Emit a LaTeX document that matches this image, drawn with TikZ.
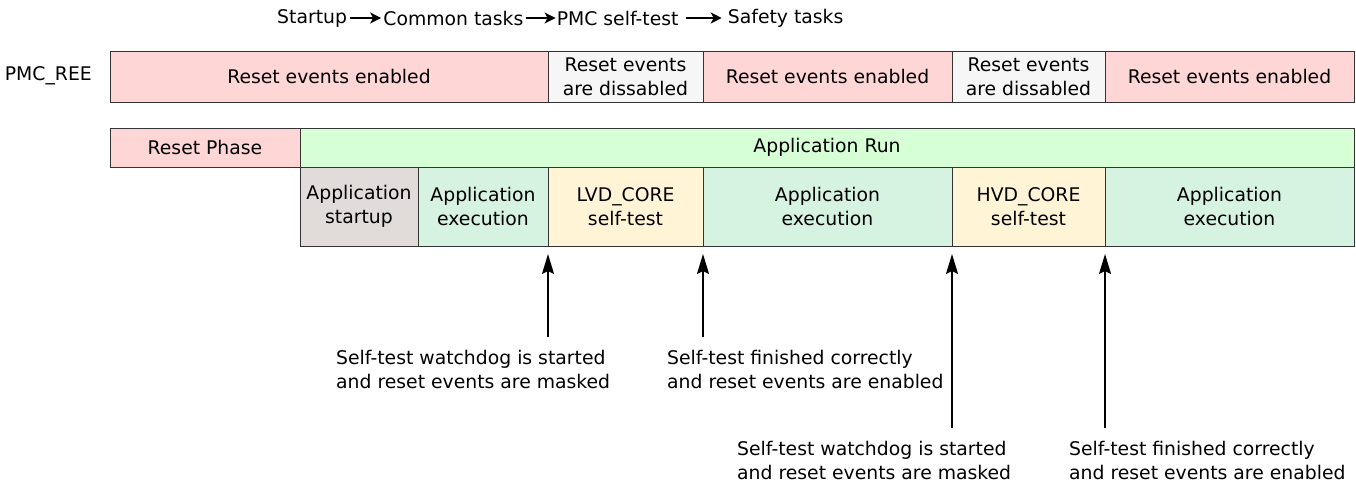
\documentclass[tikz,border=0pt]{standalone}
\usepackage{fontspec}
\setmainfont{DejaVu Sans}
\usetikzlibrary{arrows.meta}
\usetikzlibrary{positioning}

\definecolor{reepink}{HTML}{FFD6D6}
\definecolor{reeoff}{HTML}{F6F6F6}
\definecolor{rungreen}{HTML}{D6FFD6}
\definecolor{startgrey}{HTML}{E1DCDA}
\definecolor{execmint}{HTML}{D6F2E1}
\definecolor{testyellow}{HTML}{FFF5D6}

\begin{document}
\begin{tikzpicture}[x=1pt,y=-1pt]
\tikzset{font=\fontsize{18.8}{24}\selectfont}
\tikzset{seg/.style={draw=black!80, line width=0.8pt, inner sep=0pt, outer sep=0pt, align=center, anchor=north west}}
\tikzset{reeseg/.style={seg, minimum height=51pt}}
\tikzset{phaseseg/.style={seg, minimum height=39pt}}
\tikzset{taskseg/.style={seg, minimum height=79pt}}
\tikzset{evtext/.style={inner sep=0pt, align=left, anchor=north west}}
\tikzset{evarrow/.style={line width=2pt, -{Stealth[length=20pt,width=12pt,inset=3pt]}, shorten <=13pt, shorten >=8pt}}
\tikzset{flowarrow/.style={line width=1.5pt, -{Stealth[length=11pt,width=11pt,inset=3pt]}}}
\useasboundingbox (0,0) rectangle (1356,484);

% task order
\node[inner sep=0pt, anchor=west] (lstart) at (277,18) {Startup};
\node[inner sep=0pt, right=36pt of lstart] (lcommon) {Common tasks};
\node[inner sep=0pt, right=33pt of lcommon] (lpmc) {PMC self-test};
\node[inner sep=0pt, right=49pt of lpmc] (lsafety) {Safety tasks};
\draw[flowarrow] (lstart.east) ++(3,0) -- ([xshift=-2pt]lcommon.west);
\draw[flowarrow] (lcommon.east) ++(2,0) -- ([xshift=-1pt]lpmc.west);
\draw[flowarrow] (lpmc.east) ++(7,0) -- ([xshift=-6pt]lsafety.west);

% PMC_REE
\node[inner sep=0pt, anchor=east] (reelbl) at (92,76) {PMC\_REE};
\node[reeseg, fill=reepink, minimum width=438pt] (ree1) at (110,51) {Reset events enabled};
\node[reeseg, fill=reeoff, minimum width=155pt, right=0pt of ree1] (ree2) {Reset events\\are dissabled};
\node[reeseg, fill=reepink, minimum width=249pt, right=0pt of ree2] (ree3) {Reset events enabled};
\node[reeseg, fill=reeoff, minimum width=153pt, right=0pt of ree3] (ree4) {Reset events\\are dissabled};
\node[reeseg, fill=reepink, minimum width=249pt, right=0pt of ree4] (ree5) {Reset events enabled};

% phases
\node[phaseseg, fill=reepink, minimum width=190pt] (rstph) at (110,128) {Reset Phase};
\node[phaseseg, fill=rungreen, minimum width=1054pt, right=0pt of rstph] (apprun) {Application Run};

% tasks
\node[taskseg, fill=startgrey, minimum width=118pt] (appstart) at (apprun.south west) {Application\\startup};
\node[taskseg, fill=execmint, minimum width=130pt, right=0pt of appstart] (exec1) {Application\\execution};
\node[taskseg, fill=testyellow, minimum width=155pt, right=0pt of exec1] (lvd) {LVD\_CORE\\self-test};
\node[taskseg, fill=execmint, minimum width=249pt, right=0pt of lvd] (exec2) {Application\\execution};
\node[taskseg, fill=testyellow, minimum width=153pt, right=0pt of exec2] (hvd) {HVD\_CORE\\self-test};
\node[taskseg, fill=execmint, minimum width=249pt, right=0pt of hvd] (exec3) {Application\\execution};

% events
\node[evtext] (lvdon) at (336,350) {Self-test watchdog is started\\and reset events are masked};
\node[evtext] (lvdoff) at (667,350) {Self-test finished correctly\\and reset events are enabled};
\node[evtext] (hvdon) at (737,441) {Self-test watchdog is started\\and reset events are masked};
\node[evtext] (hvdoff) at (1069,441) {Self-test finished correctly\\and reset events are enabled};
\draw[evarrow] (lvdon.north -| lvd.south west) -- (lvd.south west);
\draw[evarrow] (lvdoff.north -| lvd.south east) -- (lvd.south east);
\draw[evarrow] (hvdon.north -| hvd.south west) -- (hvd.south west);
\draw[evarrow] (hvdoff.north -| hvd.south east) -- (hvd.south east);
\end{tikzpicture}
\end{document}
